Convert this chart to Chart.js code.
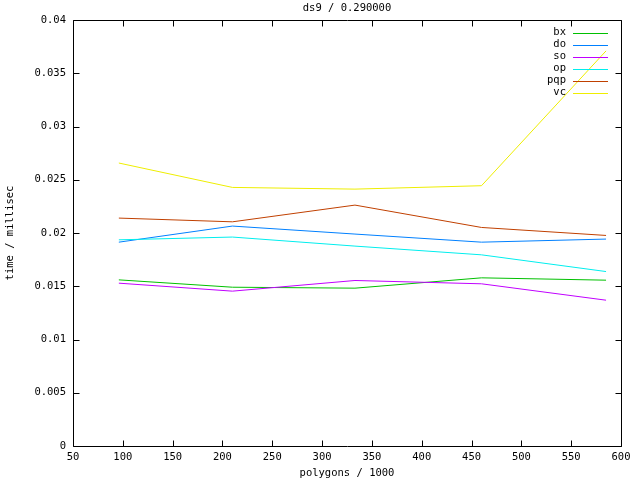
<!DOCTYPE html>
<html>
<head>
<meta charset="utf-8">
<script src="https://cdn.jsdelivr.net/npm/chart.js@4/dist/chart.umd.min.js"></script>
<style>
  html, body { margin: 0; padding: 0; background: #fff; }
  #wrap { width: 640px; height: 480px; position: relative; }
</style>
</head>
<body>
<div id="wrap"><canvas id="timeChart"></canvas></div>
<script>
// Daten
const polygons = [96, 210, 333, 460, 585];
const seriesNames = ['bx', 'do', 'so', 'op', 'pqp', 'vc'];
const bx  = [0.01560, 0.01491, 0.01482, 0.01579, 0.01557];
const doS = [0.01914, 0.02065, 0.01990, 0.01914, 0.01943];
const so  = [0.01529, 0.01454, 0.01554, 0.01523, 0.01369];
const op  = [0.01936, 0.01962, 0.01877, 0.01795, 0.01638];
const pqp = [0.02140, 0.02105, 0.02262, 0.02052, 0.01977];
const vc  = [0.02657, 0.02428, 0.02412, 0.02444, 0.03710];
const xTicks = [50, 100, 150, 200, 250, 300, 350, 400, 450, 500, 550, 600];
const yTicks = [0, 0.005, 0.01, 0.015, 0.02, 0.025, 0.03, 0.035, 0.04];

const titleText = 'ds9 / 0.290000';
const xTitle = 'polygons / 1000';
const yTitle = 'time / millisec';
const colors = ['#00c000', '#0080ff', '#c000ff', '#00eeee', '#c04000', '#eeee00'];
const FONT = '10.5px "DejaVu Sans Mono", monospace';

const allSeries = [bx, doS, so, op, pqp, vc];

function toPoints(values) {
    return values.map((v, i) => ({ x: polygons[i], y: v }));
}

// Rahmen, Ticks nach innen, Titel, Legende im gnuplot-Stil
const gnuplotFrame = {
    id: 'gnuplotFrame',
    afterDraw(chart) {
        const ctx = chart.ctx;
        const a = chart.chartArea;
        const xs = chart.scales.x;
        const ys = chart.scales.y;
        ctx.save();
        ctx.strokeStyle = '#000';
        ctx.lineWidth = 1;
        ctx.beginPath();
        const L = Math.round(a.left) + 0.5, R = Math.round(a.right) + 0.5;
        const T = Math.round(a.top) + 0.5, B = Math.round(a.bottom) + 0.5;
        ctx.rect(L, T, R - L, B - T);
        // x ticks (unten + oben)
        xTicks.forEach(v => {
            const px = Math.round(xs.getPixelForValue(v)) + 0.5;
            ctx.moveTo(px, B); ctx.lineTo(px, B - 6);
            ctx.moveTo(px, T); ctx.lineTo(px, T + 6);
        });
        // y ticks (links + rechts)
        yTicks.forEach(v => {
            const py = Math.round(ys.getPixelForValue(v)) + 0.5;
            ctx.moveTo(L, py); ctx.lineTo(L + 6, py);
            ctx.moveTo(R, py); ctx.lineTo(R - 6, py);
        });
        ctx.stroke();

        ctx.fillStyle = '#000';
        ctx.font = FONT;
        ctx.textAlign = 'center';
        ctx.textBaseline = 'middle';
        const cx = (a.left + a.right) / 2;
        ctx.fillText(titleText, cx, 8);
        ctx.fillText(xTitle, cx, 473);

        ctx.save();
        ctx.translate(10, (a.top + a.bottom) / 2);
        ctx.rotate(-Math.PI / 2);
        ctx.fillText(yTitle, 0, 0);
        ctx.restore();

        // Legende
        ctx.textAlign = 'right';
        seriesNames.forEach((name, i) => {
            const y = 32.5 + i * 12;
            ctx.fillStyle = '#000';
            ctx.fillText(name, 566, y);
            ctx.fillStyle = colors[i];
            ctx.fillRect(573, Math.round(y), 35, 1);
        });
        ctx.restore();
    }
};

new Chart(document.getElementById('timeChart'), {
    type: 'line',
    data: {
        datasets: seriesNames.map((name, i) => ({
            label: name,
            data: toPoints(allSeries[i]),
            borderColor: colors[i],
            backgroundColor: colors[i],
            borderWidth: 1,
            pointRadius: 0,
            tension: 0,
            fill: false,
            order: seriesNames.length - i
        }))
    },
    options: {
        responsive: true,
        maintainAspectRatio: false,
        animation: false,
        layout: { padding: { top: 20, right: 19, left: 0, bottom: 0 } },
        plugins: {
            legend: { display: false },
            title: { display: false },
            tooltip: { enabled: false }
        },
        scales: {
            x: {
                type: 'linear',
                min: 50,
                max: 600,
                afterBuildTicks: (scale) => { scale.ticks = xTicks.map(v => ({ value: v })); },
                afterFit: (scale) => { scale.height = 34; },
                grid: { display: false, drawTicks: false },
                border: { display: false },
                ticks: {
                    color: '#000',
                    font: { family: '"DejaVu Sans Mono", monospace', size: 10.5 },
                    padding: 5,
                    maxRotation: 0,
                    autoSkip: false
                }
            },
            y: {
                type: 'linear',
                min: 0,
                max: 0.04,
                afterBuildTicks: (scale) => { scale.ticks = yTicks.map(v => ({ value: v })); },
                afterFit: (scale) => { scale.width = 73; },
                grid: { display: false, drawTicks: false },
                border: { display: false },
                ticks: {
                    color: '#000',
                    font: { family: '"DejaVu Sans Mono", monospace', size: 10.5 },
                    padding: 7,
                    autoSkip: false,
                    callback: (v) => String(Number(v.toFixed(3)))
                }
            }
        }
    },
    plugins: [gnuplotFrame]
});
</script>
</body>
</html>
